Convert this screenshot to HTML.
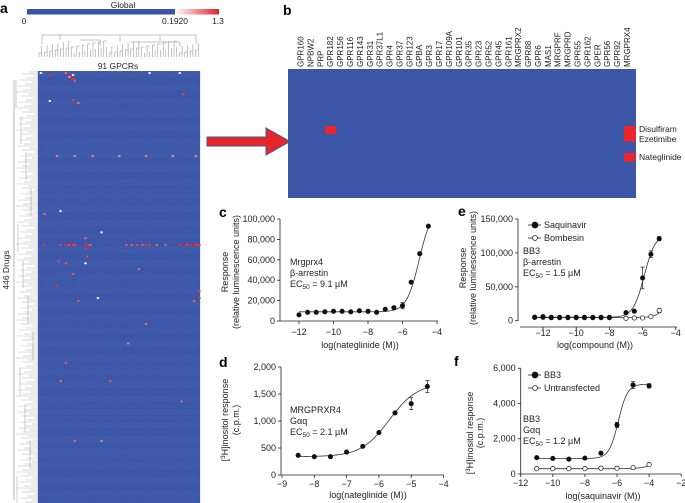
<!DOCTYPE html>
<html><head><meta charset="utf-8"><style>
html,body{margin:0;padding:0;background:#fff}
svg{display:block;font-family:"Liberation Sans",sans-serif}
</style></head><body>
<svg id="fig" width="685" height="503" viewBox="0 0 685 503">
<defs><linearGradient id="cb" x1="0" x2="1"><stop offset="0" stop-color="#ffffff"/><stop offset="1" stop-color="#e0202a"/></linearGradient></defs>
<g id="pa">
<text x="0" y="13" font-size="14" font-weight="bold">a</text>
<text x="123" y="8" font-size="8.5" text-anchor="middle" fill="#222">Global</text>
<rect x="27" y="9" width="148" height="5.5" fill="#3a52a4"/>
<rect x="175" y="9" width="44" height="5.5" fill="url(#cb)"/>
<text x="24" y="24" font-size="8.5" text-anchor="middle" fill="#222">0</text>
<text x="175" y="24" font-size="8.5" text-anchor="middle" fill="#222">0.1920</text>
<text x="218" y="24" font-size="8.5" text-anchor="middle" fill="#222">1.3</text>
<text x="118" y="69" font-size="8.5" text-anchor="middle" fill="#222">91 GPCRs</text>
<text transform="translate(9,270) rotate(-90)" font-size="8.5" text-anchor="middle" fill="#222">446 Drugs</text>
<g id="topdend"></g>
<g id="leftdend"></g>
<rect x="38" y="71" width="162" height="432" fill="#3b55a7"/>
<g id="hmgrid"></g>
<g id="hmhits"></g>
</g>
<g>
<polygon points="207,137 266,137 266,128 290,141.5 266,155 266,146 207,146" fill="#e5262b" stroke="#4a5a8a" stroke-width="1"/>
</g>
<g id="pb">
<text x="283" y="15" font-size="14" font-weight="bold">b</text>
<rect x="288" y="69" width="348" height="129" fill="#3b55a7"/>
<g id="bcols"></g><g id="bcells"></g><g id="brows"></g>
</g>
<g id="pc"></g>
<g id="pd"></g>
<g id="pe"></g>
<g id="pf"></g>
</svg>
<script>
// ---- panel a heatmap hits ----
const hitCols=[1,6,15,17,18,19,20,17,19,62,79,19,6,22,81,3,12,35,26,26,27,26,11,15,19,10,22,33,87,90,90,56,3,12,15,17,18,19,20,26,28,29,49,52,55,58,60,62,66,71,79,81,83,85,87,88,89,90,10,20,30,45,60,75,88,12,40,20,35,60,15,50,80];
const hitRows=[0,2,0,2,4,6,8,4,2,0,0,28,29,31,22,146,143,165,171,182,190,197,195,197,208,220,236,233,236,233,226,203,178,178,178,178,178,178,178,178,178,178,178,178,178,178,178,178,178,178,178,178,178,178,178,178,178,178,86,86,86,86,86,86,86,319,319,381,381,260,300,280,340];
const hitVals=[0.2,0.9,0.6,1,1,0.9,0.7,0.4,0.3,0.2,0.2,0.8,0.3,0.5,0.8,0.6,0.2,0.1,0.7,0.9,0.8,0.2,0.8,0.7,0.7,0.9,0.7,0.1,0.6,0.9,0.8,0.6,0.9,0.8,0.9,0.7,1,0.9,0.8,0.9,0.8,0.7,0.7,0.6,0.8,0.7,0.9,0.8,0.6,0.7,0.9,1,0.8,0.9,1,0.9,0.8,0.9,0.5,0.4,0.5,0.4,0.5,0.4,0.5,0.6,0.7,0.6,0.5,0.6,0.7,0.5,0.6];
// ---- panel b ----
const bReceptors=["GPR160","NPBW2","PRP","GPR182","GPR156","GPR116","GPR143","GPR31","GPR37L1","GPR4","GPR37","GPR123","GPBA","GPR3","GPR17","GPR109A","GPR101","GPR35","GPR23","GPR52","GPR45","GPR161","MRGPRX2","GPR88","GPR6","MAS1","MRGPRF","MRGPRD","GPR55","GPR162","GPER","GPR56","GPR92","MRGPRX4"];
const bHitCol=[3,33,33,33];
const bHitRow=[0,0,1,3];
const bDrugs=["Disulfiram","Ezetimibe","","Nateglinide"];
// ---- panel c ----
const cX=[-12,-11.5,-11,-10.5,-10,-9.5,-9,-8.5,-8,-7.5,-7,-6.5,-6,-5.5,-5,-4.5];
const cY=[6000,8500,8500,9000,9500,9500,9000,10000,9500,8500,11500,13000,15000,38000,66000,93000];
const cErr=[0,0,0,0,0,0,1000,0,0,0,0,0,3000,0,0,0];
const cFit=[9000,110000,-5.04,1.2];
// ---- panel d ----
const dX=[-8.5,-8,-7.5,-7,-6.5,-6,-5.5,-5,-4.5];
const dY=[365,340,340,425,530,785,1150,1320,1640];
const dErr=[0,0,0,0,0,0,0,110,110];
const dFit=[340,1700,-5.68,1];
// ---- panel e ----
const eX=[-12.5,-12,-11.5,-11,-10.5,-10,-9.5,-9,-8.5,-8,-7,-6.5,-6,-5.5,-5];
const eSaq=[5000,6000,5000,5000,5000,5000,5000,5000,5000,5000,11800,14000,63000,98000,121000];
const eSaqErr=[0,1000,0,0,0,0,0,0,0,0,0,2000,16000,5000,3000];
const eBom=[5000,5000,4500,4500,4500,4500,4500,4500,4500,4500,3500,4000,4000,6000,15000];
const eBomErr=[0,0,0,0,0,0,0,0,0,0,0,0,0,0,3000];
const eSaqFit=[5000,128000,-5.9,1.3];
const eBomFit=[4500,200000,-3.8,1.2];
// ---- panel f ----
const fX=[-11,-10,-9,-8,-7,-6,-5,-4];
const fBB3=[925,880,840,900,1180,2780,5050,5000];
const fBB3Err=[0,0,0,0,80,150,200,120];
const fUnt=[300,300,300,300,330,320,360,540];
const fBB3Fit=[880,5100,-5.92,1.5];
const fUntFit=[300,1000,-3.5,1];

const NS="http://www.w3.org/2000/svg";
function mk(parent,tag,attrs,txt){const e=document.createElementNS(NS,tag);for(const k in attrs)e.setAttribute(k,attrs[k]);if(txt!==undefined)e.textContent=txt;parent.appendChild(e);return e;}
function hill(p,x){return p[0]+(p[1]-p[0])/(1+Math.pow(10,p[3]*(p[2]-x)));}

// panel a grid & dendrograms (decorative)
const grid=document.getElementById('hmgrid');
for(let c=0;c<=91;c+=1){mk(grid,'line',{x1:38+c*1.78,x2:38+c*1.78,y1:71,y2:503,stroke:'#4a63b0','stroke-width':0.3});}
for(let r=0;r<446;r+=14){mk(grid,'rect',{x:38,y:71+r*0.966,width:162,height:6,fill:'#4560ae',opacity:0.35});}
const td=document.getElementById('topdend');
for(let i=0;i<60;i++){const x=39+i*2.7;const h=4+((i*7)%13);mk(td,'line',{x1:x,x2:x,y1:57,y2:57-h,stroke:'#888','stroke-width':0.5});if(i%2==0)mk(td,'line',{x1:x,x2:x+2.7,y1:57-h,y2:57-h,stroke:'#888','stroke-width':0.5});}
mk(td,'path',{d:'M42 44 V35 H196 V44 M60 35 V40 M120 35 V42 M160 35 V41 M80 40 H100 V46 M130 42 H180 V47',fill:'none',stroke:'#888','stroke-width':0.5});
const ld=document.getElementById('leftdend');
for(let y=72;y<503;y+=2){const w=4+((y*13)%19);mk(ld,'line',{x1:38-w,x2:38,y1:y,y2:y,stroke:'#bdbdbd','stroke-width':0.6});}
for(let k=0;k<12;k++){const x=16+((k*5)%18);const y=80+k*36;mk(ld,'line',{x1:x,x2:x,y1:y,y2:y+28,stroke:'#999','stroke-width':0.5});}
mk(ld,'line',{x1:14,x2:14,y1:80,y2:500,stroke:'#888','stroke-width':0.6});
const hh=document.getElementById('hmhits');
for(let i=0;i<hitCols.length;i++){
  const v=hitVals[i];const col=v<0.35?'#dfe6ff':`rgb(${230},${Math.round(220-190*v)},${Math.round(225-190*v)})`;
  const r=mk(hh,'rect',{x:38+hitCols[i]*1.78,y:72+hitRows[i]*0.966,width:2.4,height:2,fill:col});
  
  
}
// panel b
const bc=document.getElementById('bcols');
const bx0=300.5,bdx=(627-300.5)/(bReceptors.length-1);
bReceptors.forEach((n,i)=>{const t=mk(bc,'text',{transform:`translate(${bx0+i*bdx+3},67) rotate(-90)`,'font-size':8,fill:'#222'},n);
  
  });
const bcl=document.getElementById('bcells');
const rowY=[126,133.5,141,153];
for(let i=0;i<bHitCol.length;i++){
  const c=bHitCol[i]===33?{x:624,w:12}:{x:bx0+bHitCol[i]*bdx-5,w:11};
  const r=mk(bcl,'rect',{x:c.x,y:rowY[bHitRow[i]],width:c.w,height:bHitRow[i]==3?8.5:8,fill:'#e8262c'});
  
  
}
const br=document.getElementById('brows');
bDrugs.forEach((d,i)=>{if(!d)return;const t=mk(br,'text',{x:639,y:[132,142,0,160][i],'font-size':8.5,fill:'#222'},d);
  
  });

// generic dose-response panel
function panel(g,o){
  const xs=v=>o.x0px+(v-o.x0)*o.xu, ys=v=>o.y0px-v*o.yu;
  mk(g,'text',{x:o.lx,y:o.ly,'font-size':14,'font-weight':'bold'},o.letter);
  mk(g,'line',{x1:o.yax,x2:o.yax,y1:ys(o.yt[o.yt.length-1]),y2:ys(0),stroke:'#222','stroke-width':0.8});
  mk(g,'line',{x1:o.xa0,x2:o.xa1,y1:o.xay,y2:o.xay,stroke:'#222','stroke-width':0.8});
  o.yt.forEach((t,i)=>{const y=ys(t);mk(g,'line',{x1:o.yax-3,x2:o.yax,y1:y,y2:y,stroke:'#222','stroke-width':0.8});
    const e=mk(g,'text',{x:o.yax-5,y:y+3,'font-size':9,'text-anchor':'end',fill:'#222'},o.ytl[i]);
    
    });
  o.xt.forEach((t,i)=>{const x=xs(t);mk(g,'line',{x1:x,x2:x,y1:o.xay,y2:o.xay+3,stroke:'#222','stroke-width':0.8});
    const e=mk(g,'text',{x:x,y:o.xtly,'font-size':9,'text-anchor':'middle',fill:'#222'},o.xtl[i]);
    
    });
  const xl=mk(g,'text',{x:o.xlx,y:o.xly,'font-size':9,'text-anchor':'middle',fill:'#222'},o.xlabel);
  
  
  o.ylab.forEach((l,i)=>{const e=mk(g,'text',{transform:`translate(${o.ylx[i]},${o.yly}) rotate(-90)`,'font-size':9,'text-anchor':'middle',fill:'#222'});e.innerHTML=l;
    
    });
  o.ann.forEach((l,i)=>{const e=mk(g,'text',{x:o.annx,y:o.anny+i*11,'font-size':9,fill:'#222'});e.innerHTML=l;
    
    });
  o.series.forEach(s=>{
    let d='';for(let k=0;k<=120;k++){const v=s.xmin+(s.xmax-s.xmin)*k/120;d+=(k?'L':'M')+xs(v).toFixed(2)+' '+ys(hill(s.fit,v)).toFixed(2);}
    const c=mk(g,'path',{d:d,fill:'none',stroke:'#333','stroke-width':0.8});
    
    
    s.x.forEach((xv,i)=>{const cx=xs(xv),cy=ys(s.y[i]);
      if(s.err[i]){const e1=ys(s.y[i]+s.err[i]),e2=ys(s.y[i]-s.err[i]);
        mk(g,'path',{d:`M${cx} ${e1}V${e2}M${cx-2} ${e1}H${cx+2}M${cx-2} ${e2}H${cx+2}`,stroke:'#222','stroke-width':0.7,fill:'none'});}
      const p=mk(g,'circle',{cx:cx,cy:cy,r:2.2,fill:s.open?'#fff':'#111',stroke:'#111','stroke-width':0.7});
      
      });
  });
  (o.legend||[]).forEach((L,i)=>{const y=o.legy+i*13;
    mk(g,'line',{x1:o.legx,x2:o.legx+13,y1:y,y2:y,stroke:'#222','stroke-width':0.8});
    mk(g,'circle',{cx:o.legx+7,cy:y,r:L.open?2.4:3,fill:L.open?'#fff':'#111',stroke:'#111','stroke-width':0.7});
    const t=mk(g,'text',{x:o.legx+16,y:y+3,'font-size':9,fill:'#222'},L.name);
    
    });
}
panel(document.getElementById('pc'),{letter:'c',lx:219,ly:217,x0:-12,x0px:299,xu:17.25,y0px:321,yu:102/100000,
  yax:280,xa0:280,xa1:438,xay:321,yt:[0,20000,40000,60000,80000,100000],ytl:['0','20,000','40,000','60,000','80,000','100,000'],
  xt:[-12,-10,-8,-6,-4],xtl:['\u221212','\u221210','\u22128','\u22126','\u22124'],xtly:335,xlabel:'log(nateglinide (M))',xlx:360,xly:348,
  ylab:['Response','(relative luminescence units)'],ylx:[228,239],yly:272,
  ann:['Mrgprx4','\u03b2-arrestin','EC<tspan font-size="6.5" dy="2">50</tspan><tspan dy="-2"> = 9.1 \u00b5M</tspan>'],annx:290,anny:265,
  series:[{x:cX,y:cY,err:cErr,fit:cFit,xmin:-12,xmax:-4.5}]});
panel(document.getElementById('pd'),{letter:'d',lx:219,ly:367,x0:-9,x0px:282,xu:32.3,y0px:475,yu:0.054,
  yax:281,xa0:281,xa1:444,xay:475,yt:[0,500,1000,1500,2000],ytl:['0','500','1,000','1,500','2,000'],
  xt:[-9,-8,-7,-6,-5,-4],xtl:['\u22129','\u22128','\u22127','\u22126','\u22125','\u22124'],xtly:487,xlabel:'log(nateglinide (M))',xlx:368,xly:498,
  ylab:['[<tspan font-size="6" dy="-3">3</tspan><tspan dy="3">H]inositol response</tspan>','(c.p.m.)'],ylx:[228,239],yly:420,
  ann:['MRGPRXR4','G\u03b1q','EC<tspan font-size="6.5" dy="2">50</tspan><tspan dy="-2"> = 2.1 \u00b5M</tspan>'],annx:290,anny:413,
  series:[{x:dX,y:dY,err:dErr,fit:dFit,xmin:-8.5,xmax:-4.5}]});
panel(document.getElementById('pe'),{letter:'e',lx:458,ly:216,x0:-12,x0px:543,xu:16.6,y0px:320.7,yu:101.7/150000,
  yax:518,xa0:520,xa1:677,xay:327,yt:[0,50000,100000,150000],ytl:['0','50,000','100,000','150,000'],
  xt:[-12,-10,-8,-6,-4],xtl:['\u221212','\u221210','\u22128','\u22126','\u22124'],xtly:336,xlabel:'log(compound (M))',xlx:595,xly:348,
  ylab:['Response','(relative luminescence units)'],ylx:[466,476],yly:268,
  ann:['BB3','\u03b2-arrestin','EC<tspan font-size="6.5" dy="2">50</tspan><tspan dy="-2"> = 1.5 \u00b5M</tspan>'],annx:523,anny:254,
  legx:528,legy:225,legend:[{name:'Saquinavir'},{name:'Bombesin',open:true}],
  series:[{x:eX,y:eBom,err:eBomErr,fit:eBomFit,xmin:-12.5,xmax:-5,open:true},{x:eX,y:eSaq,err:eSaqErr,fit:eSaqFit,xmin:-12.5,xmax:-5}]});
panel(document.getElementById('pf'),{letter:'f',lx:454,ly:366,x0:-12,x0px:520.7,xu:16.05,y0px:474,yu:0.01763,
  yax:520.7,xa0:520.7,xa1:681,xay:474,yt:[0,2000,4000,6000],ytl:['0','2,000','4,000','6,000'],
  xt:[-12,-10,-8,-6,-4,-2],xtl:['\u221212','\u221210','\u22128','\u22126','\u22124','\u22122'],xtly:486,xlabel:'log(saquinavir (M))',xlx:603,xly:499,
  ylab:['[<tspan font-size="6" dy="-3">3</tspan><tspan dy="3">H]inositol response</tspan>','(c.p.m.)'],ylx:[473,483],yly:433,
  ann:['BB3','G\u03b1q','EC<tspan font-size="6.5" dy="2">50</tspan><tspan dy="-2"> = 1.2 \u00b5M</tspan>'],annx:523,anny:422,
  legx:528,legy:375,legend:[{name:'BB3'},{name:'Untransfected',open:true}],
  series:[{x:fX,y:fUnt,err:[0,0,0,0,0,0,0,0],fit:fUntFit,xmin:-11,xmax:-4,open:true},{x:fX,y:fBB3,err:fBB3Err,fit:fBB3Fit,xmin:-11,xmax:-4}]});
</script>
</body></html>
